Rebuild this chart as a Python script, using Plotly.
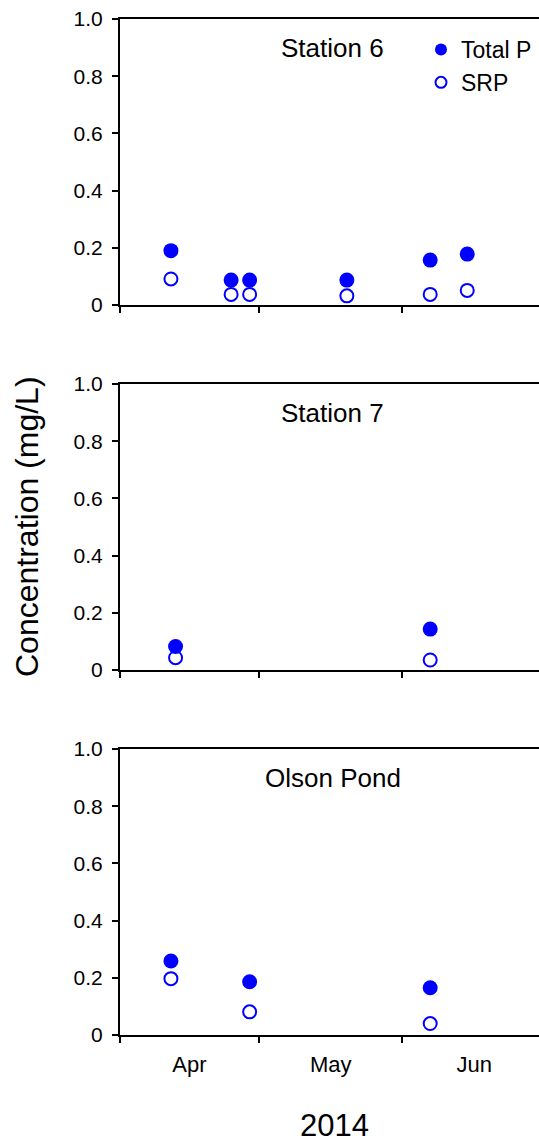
import plotly.graph_objects as go
from plotly.subplots import make_subplots

FONT = "Liberation Sans, Arial, sans-serif"
BLUE = "#0000FF"

# ---- data ----
s6_dates = ["2014-04-12", "2014-04-25", "2014-04-29", "2014-05-20", "2014-06-07", "2014-06-15"]
s6_tp = [0.190, 0.087, 0.087, 0.087, 0.157, 0.178]
s6_srp = [0.091, 0.037, 0.037, 0.032, 0.037, 0.051]

s7_dates = ["2014-04-13", "2014-06-07"]
s7_tp = [0.082, 0.143]
s7_srp = [0.043, 0.035]

op_dates = ["2014-04-12", "2014-04-29", "2014-06-07"]
op_tp = [0.259, 0.186, 0.165]
op_srp = [0.197, 0.081, 0.040]

panel_titles = ["Station 6", "Station 7", "Olson Pond"]
y_tickvals = [0, 0.2, 0.4, 0.6, 0.8, 1.0]
y_ticktext = ["0", "0.2", "0.4", "0.6", "0.8", "1.0"]
x_range = ["2014-04-01", "2014-06-30 12:00"]

panels = [(s6_dates, s6_tp, s6_srp), (s7_dates, s7_tp, s7_srp), (op_dates, op_tp, op_srp)]

fig = make_subplots(rows=3, cols=1, shared_xaxes=False, vertical_spacing=0.0)

W, H = 539, 1142
ML, MR, MT, MB = 120, 0, 19, 107
plot_h = H - MT - MB
bottom_px = H - MB
# panel pixel extents (top, bottom)
extents = [(19, 305), (384, 670), (749, 1035)]

for i, (d, tp, srp) in enumerate(panels):
    r = i + 1
    fig.add_trace(go.Scatter(x=d, y=tp, mode="markers", showlegend=False,
                             marker=dict(symbol="circle", size=15, color=BLUE)), row=r, col=1)
    fig.add_trace(go.Scatter(x=d, y=srp, mode="markers", showlegend=False,
                             marker=dict(symbol="circle-open", size=13, color=BLUE,
                                         line=dict(width=2, color=BLUE))), row=r, col=1)

# legend-only entries
fig.add_trace(go.Scatter(x=[None], y=[None], mode="markers", name="Total P",
                         marker=dict(symbol="circle", size=12, color=BLUE)), row=1, col=1)
fig.add_trace(go.Scatter(x=[None], y=[None], mode="markers", name="SRP",
                         marker=dict(symbol="circle-open", size=11, color=BLUE,
                                     line=dict(width=2, color=BLUE))), row=1, col=1)

for i, (top, bot) in enumerate(extents):
    r = i + 1
    dom = [(bottom_px - bot) / plot_h, (bottom_px - top) / plot_h]
    yname = "yaxis" if r == 1 else f"yaxis{r}"
    xname = "xaxis" if r == 1 else f"xaxis{r}"
    fig.layout[yname].update(domain=dom, range=[0, 1.0], tickvals=y_tickvals, ticktext=y_ticktext,
                             showline=True, linecolor="black", linewidth=2, ticks="outside",
                             ticklen=6, tickwidth=2, tickcolor="black", showgrid=False,
                             zeroline=False, ticklabelstandoff=5,
                             tickfont=dict(family=FONT, size=21, color="black"))
    fig.layout[xname].update(type="date", range=x_range, showline=True, mirror=True,
                             linecolor="black", linewidth=2, ticks="outside", ticklen=6,
                             tickwidth=2, tickcolor="black", showgrid=False, zeroline=False,
                             dtick="M1", tick0="2014-04-01", tickformat="%b",
                             ticklabelmode="period", showticklabels=(r == 3),
                             ticklabelstandoff=3,
                             tickfont=dict(family=FONT, size=22, color="black"))
    fig.add_annotation(text=panel_titles[i], xref=f"{'x' if r == 1 else 'x' + str(r)} domain",
                       yref=f"{'y' if r == 1 else 'y' + str(r)} domain",
                       x=0.508, y=0.9, xanchor="center", yanchor="middle", showarrow=False,
                       font=dict(family=FONT, size=26, color="black"))

fig.add_annotation(text="Concentration (mg/L)", xref="paper", yref="paper",
                   x=(27 - ML) / (W - ML - MR), y=(bottom_px - 527) / plot_h,
                   textangle=-90, showarrow=False, xanchor="center", yanchor="middle",
                   font=dict(family=FONT, size=32, color="black"))
fig.add_annotation(text="2014", xref="paper", yref="paper",
                   x=(334 - ML) / (W - ML - MR), y=(bottom_px - 1125) / plot_h,
                   showarrow=False, xanchor="center", yanchor="middle",
                   font=dict(family=FONT, size=31, color="black"))

fig.update_layout(
    width=W, height=H, margin=dict(l=ML, r=MR, t=MT, b=MB),
    paper_bgcolor="white", plot_bgcolor="white",
    showlegend=True,
    legend=dict(x=(421 - ML) / (W - ML - MR), y=(bottom_px - 28) / plot_h,
                xanchor="left", yanchor="top", bgcolor="rgba(0,0,0,0)",
                font=dict(family=FONT, size=23, color="black"), tracegroupgap=14,
                traceorder="grouped"),
)

fig.write_html("out.html")
